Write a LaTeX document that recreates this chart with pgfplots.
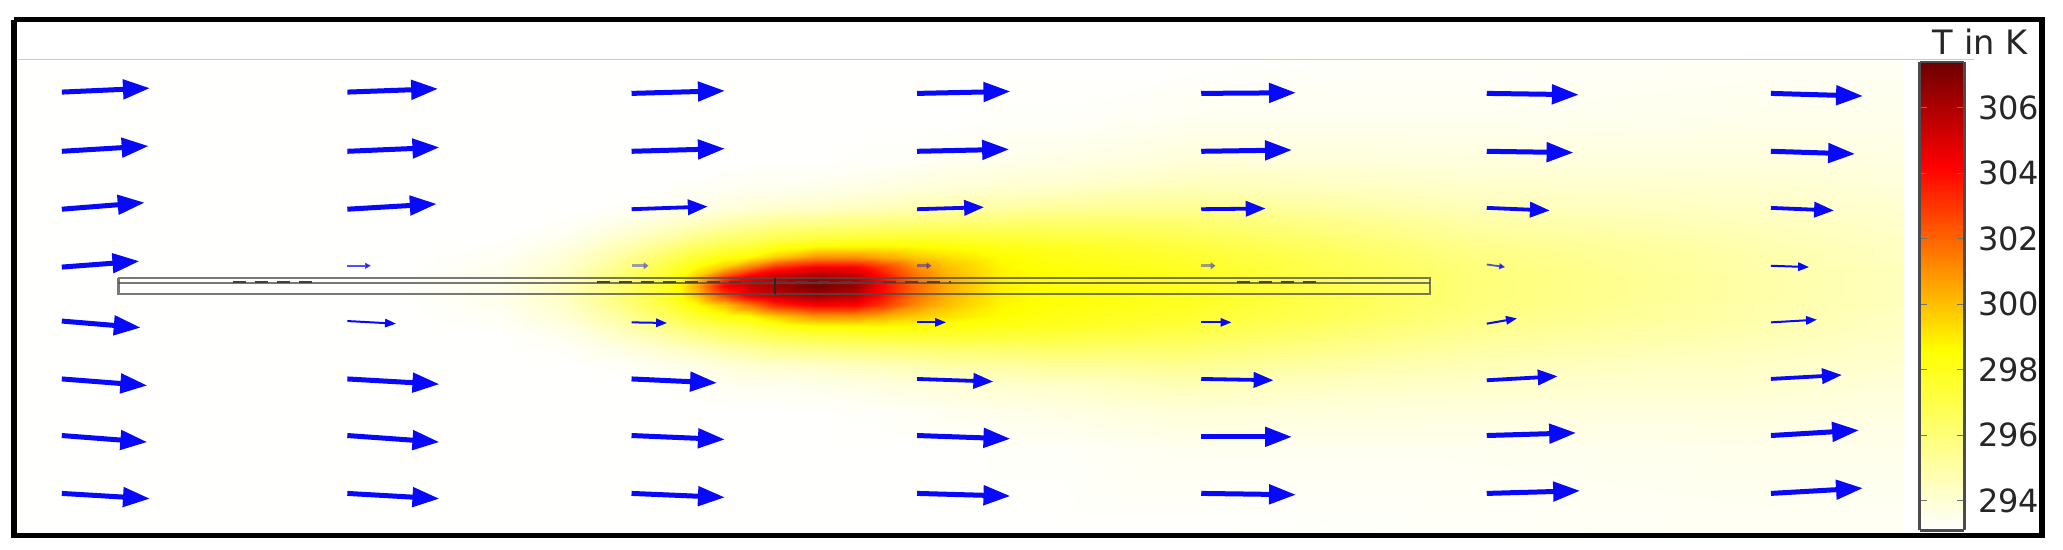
\documentclass[border=0pt]{standalone}
\usepackage{fontspec}
\setmainfont{DejaVu Sans}
\usepackage{pgfplots}
\pgfplotsset{compat=1.18}
\usetikzlibrary{arrows.meta}
\definecolor{arrowblue}{rgb}{0.03,0.03,0.98}
\pgfplotsset{
 colormap={hotrev}{rgb255(0cm)=(255,255,254); rgb255(3.85cm)=(255,255,0); rgb255(7.76cm)=(255,0,0); rgb255(10cm)=(110,0,0)}
}
\begin{document}
\begin{tikzpicture}
\useasboundingbox (0,0) rectangle (1031.5pt,275pt);
\begin{axis}[
 at={(0pt,0pt)},anchor=south west,scale only axis,width=1031.5pt,height=275pt,
 xmin=0,xmax=1568,ymin=0,ymax=418,y dir=reverse,hide axis,clip=false,view={0}{90},
 point meta min=293.1,point meta max=307.4,colormap name=hotrev]
\addplot3[surf,shader=interp,mesh/cols=22,point meta=\thisrowno{2}] table[x index=0,y index=1,z index=2,header=false,row sep=\\]{
12 45 293.1\\300 45 293.1\\380 45 293.1\\430 45 293.1\\470 45 293.1\\500 45 293.1\\515 45 293.1\\530 45 293.1\\550 45 293.1\\570 45 293.1\\590 45 293.1\\620 45 293.1\\650 45 293.1\\670 45 293.1\\695 45 293.1\\720 45 293.1\\760 45 293.1\\800 45 293.1\\900 45 293.1\\1120 45 293.2\\1330 45 293.3\\1447 45 293.3\\
12 92 293.1\\300 92 293.1\\380 92 293.1\\430 92 293.1\\470 92 293.1\\500 92 293.1\\515 92 293.1\\530 92 293.1\\550 92 293.1\\570 92 293.1\\590 92 293.1\\620 92 293.1\\650 92 293.1\\670 92 293.1\\695 92 293.1\\720 92 293.1\\760 92 293.2\\800 92 293.2\\900 92 293.4\\1120 92 293.4\\1330 92 293.5\\1447 92 293.5\\
12 122 293.1\\300 122 293.1\\380 122 293.1\\430 122 293.1\\470 122 293.1\\500 122 293.1\\515 122 293.1\\530 122 293.1\\550 122 293.1\\570 122 293.1\\590 122 293.1\\620 122 293.1\\650 122 293.2\\670 122 293.2\\695 122 293.3\\720 122 293.4\\760 122 293.5\\800 122 293.6\\900 122 293.9\\1120 122 293.8\\1330 122 293.8\\1447 122 293.7\\
12 142 293.1\\300 142 293.1\\380 142 293.1\\430 142 293.1\\470 142 293.1\\500 142 293.1\\515 142 293.2\\530 142 293.2\\550 142 293.3\\570 142 293.4\\590 142 293.4\\620 142 293.5\\650 142 293.6\\670 142 293.7\\695 142 293.8\\720 142 293.9\\760 142 294.1\\800 142 294.2\\900 142 294.6\\1120 142 294.2\\1330 142 294.1\\1447 142 293.9\\
12 157 293.1\\300 157 293.1\\380 157 293.1\\430 157 293.1\\470 157 293.2\\500 157 293.4\\515 157 293.5\\530 157 293.6\\550 157 293.8\\570 157 294\\590 157 294.1\\620 157 294.2\\650 157 294.4\\670 157 294.5\\695 157 294.7\\720 157 294.9\\760 157 295\\800 157 295.2\\900 157 295.4\\1120 157 294.6\\1330 157 294.3\\1447 157 294.1\\
12 169 293.1\\300 169 293.1\\380 169 293.1\\430 169 293.2\\470 169 293.6\\500 169 294\\515 169 294.2\\530 169 294.4\\550 169 294.8\\570 169 295.1\\590 169 295.4\\620 169 295.6\\650 169 295.8\\670 169 295.9\\695 169 296\\720 169 296.1\\760 169 296.2\\800 169 296.3\\900 169 296.2\\1120 169 295\\1330 169 294.5\\1447 169 294.2\\
12 179 293.1\\300 179 293.1\\380 179 293.1\\430 179 293.4\\470 179 294.1\\500 179 294.7\\515 179 295.1\\530 179 295.5\\550 179 296\\570 179 296.3\\590 179 296.7\\620 179 297\\650 179 297.2\\670 179 297.3\\695 179 297.4\\720 179 297.4\\760 179 297.3\\800 179 297.2\\900 179 296.8\\1120 179 295.3\\1330 179 294.7\\1447 179 294.3\\
12 187 293.1\\300 187 293.1\\380 187 293.2\\430 187 293.7\\470 187 294.6\\500 187 295.5\\515 187 296\\530 187 296.5\\550 187 297\\570 187 297.4\\590 187 298\\620 187 298.6\\650 187 298.7\\670 187 298.7\\695 187 298.6\\720 187 298.4\\760 187 298.1\\800 187 297.9\\900 187 297.3\\1120 187 295.6\\1330 187 294.8\\1447 187 294.4\\
12 195 293.1\\300 195 293.1\\380 195 293.3\\430 195 294\\470 195 295.1\\500 195 296.3\\515 195 297\\530 195 297.6\\550 195 298.3\\570 195 298.7\\590 195 299.8\\620 195 301\\650 195 301\\670 195 300.5\\695 195 299.8\\720 195 299.3\\760 195 298.6\\800 195 298.2\\900 195 297.6\\1120 195 295.8\\1330 195 294.9\\1447 195 294.4\\
12 203 293.1\\300 203 293.1\\380 203 293.4\\430 203 294.2\\470 203 295.6\\500 203 297\\515 203 297.7\\530 203 298.6\\550 203 299.8\\570 203 301.5\\590 203 303.3\\620 203 304.3\\650 203 304.2\\670 203 303\\695 203 301.2\\720 203 300\\760 203 298.8\\800 203 298.4\\900 203 297.8\\1120 203 295.9\\1330 203 294.9\\1447 203 294.5\\
12 210 293.1\\300 210 293.1\\380 210 293.5\\430 210 294.4\\470 210 295.9\\500 210 297.3\\515 210 298.3\\530 210 299.8\\550 210 302.5\\570 210 304.5\\590 210 305.4\\620 210 306.2\\650 210 305.6\\670 210 303.9\\695 210 301.8\\720 210 300.3\\760 210 298.9\\800 210 298.5\\900 210 297.9\\1120 210 296\\1330 210 295\\1447 210 294.5\\
12 217 293.1\\300 217 293.1\\380 217 293.5\\430 217 294.5\\470 217 296\\500 217 297.5\\515 217 298.6\\530 217 300.5\\550 217 304.2\\570 217 305.5\\590 217 306.3\\620 217 307.2\\650 217 306.5\\670 217 304.2\\695 217 302\\720 217 300.5\\760 217 298.9\\800 217 298.5\\900 217 297.9\\1120 217 296\\1330 217 295\\1447 217 294.5\\
12 225 293.1\\300 225 293.1\\380 225 293.5\\430 225 294.4\\470 225 295.9\\500 225 297.3\\515 225 298.3\\530 225 299.8\\550 225 302.5\\570 225 304.5\\590 225 305.4\\620 225 306.2\\650 225 305.6\\670 225 303.9\\695 225 301.8\\720 225 300.3\\760 225 298.9\\800 225 298.5\\900 225 297.9\\1120 225 296\\1330 225 295\\1447 225 294.5\\
12 232 293.1\\300 232 293.1\\380 232 293.4\\430 232 294.2\\470 232 295.6\\500 232 297\\515 232 297.7\\530 232 298.6\\550 232 299.8\\570 232 301.5\\590 232 303.3\\620 232 304.3\\650 232 304.2\\670 232 303\\695 232 301.2\\720 232 300\\760 232 298.8\\800 232 298.4\\900 232 297.8\\1120 232 295.9\\1330 232 294.9\\1447 232 294.5\\
12 240 293.1\\300 240 293.1\\380 240 293.3\\430 240 294\\470 240 295.1\\500 240 296.3\\515 240 297\\530 240 297.6\\550 240 298.3\\570 240 298.7\\590 240 299.8\\620 240 301\\650 240 301\\670 240 300.5\\695 240 299.8\\720 240 299.3\\760 240 298.6\\800 240 298.2\\900 240 297.6\\1120 240 295.8\\1330 240 294.9\\1447 240 294.4\\
12 248 293.1\\300 248 293.1\\380 248 293.2\\430 248 293.7\\470 248 294.6\\500 248 295.5\\515 248 296\\530 248 296.5\\550 248 297\\570 248 297.4\\590 248 298\\620 248 298.6\\650 248 298.7\\670 248 298.7\\695 248 298.6\\720 248 298.4\\760 248 298.1\\800 248 297.9\\900 248 297.3\\1120 248 295.6\\1330 248 294.8\\1447 248 294.4\\
12 256 293.1\\300 256 293.1\\380 256 293.1\\430 256 293.4\\470 256 294.1\\500 256 294.7\\515 256 295.1\\530 256 295.5\\550 256 296\\570 256 296.3\\590 256 296.7\\620 256 297\\650 256 297.2\\670 256 297.3\\695 256 297.4\\720 256 297.4\\760 256 297.3\\800 256 297.2\\900 256 296.8\\1120 256 295.3\\1330 256 294.7\\1447 256 294.3\\
12 266 293.1\\300 266 293.1\\380 266 293.1\\430 266 293.2\\470 266 293.6\\500 266 294\\515 266 294.2\\530 266 294.4\\550 266 294.8\\570 266 295.1\\590 266 295.4\\620 266 295.6\\650 266 295.8\\670 266 295.9\\695 266 296\\720 266 296.1\\760 266 296.2\\800 266 296.3\\900 266 296.2\\1120 266 295\\1330 266 294.5\\1447 266 294.2\\
12 278 293.1\\300 278 293.1\\380 278 293.1\\430 278 293.1\\470 278 293.2\\500 278 293.4\\515 278 293.5\\530 278 293.6\\550 278 293.8\\570 278 294\\590 278 294.1\\620 278 294.2\\650 278 294.4\\670 278 294.5\\695 278 294.7\\720 278 294.9\\760 278 295\\800 278 295.2\\900 278 295.4\\1120 278 294.6\\1330 278 294.3\\1447 278 294.1\\
12 293 293.1\\300 293 293.1\\380 293 293.1\\430 293 293.1\\470 293 293.1\\500 293 293.1\\515 293 293.2\\530 293 293.2\\550 293 293.3\\570 293 293.4\\590 293 293.4\\620 293 293.5\\650 293 293.6\\670 293 293.7\\695 293 293.8\\720 293 293.9\\760 293 294.1\\800 293 294.2\\900 293 294.6\\1120 293 294.2\\1330 293 294.1\\1447 293 293.9\\
12 313 293.1\\300 313 293.1\\380 313 293.1\\430 313 293.1\\470 313 293.1\\500 313 293.1\\515 313 293.1\\530 313 293.1\\550 313 293.1\\570 313 293.1\\590 313 293.1\\620 313 293.1\\650 313 293.2\\670 313 293.2\\695 313 293.3\\720 313 293.4\\760 313 293.5\\800 313 293.6\\900 313 293.9\\1120 313 293.8\\1330 313 293.8\\1447 313 293.7\\
12 343 293.1\\300 343 293.1\\380 343 293.1\\430 343 293.1\\470 343 293.1\\500 343 293.1\\515 343 293.1\\530 343 293.1\\550 343 293.1\\570 343 293.1\\590 343 293.1\\620 343 293.1\\650 343 293.1\\670 343 293.1\\695 343 293.1\\720 343 293.1\\760 343 293.2\\800 343 293.2\\900 343 293.4\\1120 343 293.4\\1330 343 293.5\\1447 343 293.5\\
12 407 293.1\\300 407 293.1\\380 407 293.1\\430 407 293.1\\470 407 293.1\\500 407 293.1\\515 407 293.1\\530 407 293.1\\550 407 293.1\\570 407 293.1\\590 407 293.1\\620 407 293.1\\650 407 293.1\\670 407 293.1\\695 407 293.1\\720 407 293.1\\760 407 293.1\\800 407 293.1\\900 407 293.1\\1120 407 293.2\\1330 407 293.3\\1447 407 293.3\\
};
% thin line below the top band
\addplot[gray!40,line width=0.5pt] coordinates {(12,45) (1500,45)};
% rod
\addplot[black!70,line width=1.2pt,opacity=.75] coordinates {(90,211.5) (1087,211.5) (1087,223.5) (90,223.5) (90,211.5)};
\addplot[black!70,line width=1pt,opacity=.75] coordinates {(90,215) (1087,215)};
\addplot[black!75,line width=0.8pt,dash pattern=on 6.5pt off 4.5pt] coordinates {(177,214.5) (238,214.5)};
\addplot[black!75,line width=0.8pt,dash pattern=on 6.5pt off 4.5pt] coordinates {(454,214.5) (723,214.5)};
\addplot[black!75,line width=0.8pt,dash pattern=on 6.5pt off 4.5pt] coordinates {(940,214.5) (1000,214.5)};
\addplot[black!85,line width=1pt] coordinates {(589,211.5) (589,223.5)};
% arrows
\addplot[arrowblue,line width=2.5pt,-{Triangle[length=13.5pt,width=9.5pt]},
 quiver={u=\thisrow{u},v=\thisrow{v}}] table{
x y u v
47 70 67 -3
264 70 69 -2.5
480 71 71 -2
697 71 71 -1.5
913 71 72 -0.5
1130 71 70 1
1346 71 70 2
47 115 66 -4
264 115 70 -3
480 115 71 -2
697 115 70 -1.5
913 115 69 -1
1130 115 66 1
1346 115 64 2
47 159 63 -5
264 159 68 -4
47 203 59 -4.5
47 244 60 5
47 288 65 5
264 288 70 4
480 288 65 3
47 331 65 5
264 331 70 5
480 331 71 3
697 331 71 2.5
913 332 69 0
1130 331 68 -2
1346 331 67 -4
47 375 67 4
264 375 70 4
480 375 71 3
697 375 71 2
913 375 72 1
1130 375 71 -2
1346 375 70 -4
};
\addplot[arrowblue,line width=1.9pt,-{Triangle[length=10pt,width=7.5pt]},
 quiver={u=\thisrow{u},v=\thisrow{v}}] table{
x y u v
480 159 58 -2
697 159 51 -1.5
913 159 49 -0.5
1130 158 48 2
1346 158 48 2
697 288 58 2
913 288 55 1
1130 289 54 -3
1346 288 54 -3
};
\addplot[arrowblue,line width=1pt,-{Triangle[length=5.5pt,width=4.2pt]},
 quiver={u=\thisrow{u},v=\thisrow{v}}] table{
x y u v
1346 202 29 1
264 244 37 2
480 245 27 0.5
697 245 22 0
913 245 23 0
1130 246 23 -4
1346 245 35 -2
};
\addplot[arrowblue,opacity=.7,line width=0.9pt,-{Triangle[length=3pt,width=3pt]},
 quiver={u=\thisrow{u},v=\thisrow{v}}] table{
x y u v
264 202 18 0
1130 201 14 2
};
\addplot[arrowblue,opacity=.4,line width=1.3pt,-{Triangle[length=2.5pt,width=3.5pt]},
 quiver={u=\thisrow{u},v=\thisrow{v}}] table{
x y u v
480 202 13 0
697 202 11 0
913 202 11 0
};
% frame
\addplot[black,line width=2.7pt] coordinates {(10.5,15) (1552,15) (1552,407) (10.5,407) (10.5,15)};
\node[anchor=center,text=black!85,font=\fontsize{16.8}{20}\selectfont] at (axis cs:1505,32) {T in K};
\end{axis}
\begin{axis}[
 at={(959.8pt,9.87pt)},anchor=south west,scale only axis,width=22.3pt,height=234.2pt,
 xmin=0,xmax=1,ymin=293.1,ymax=307.4,view={0}{90},
 xtick=\empty,ytick={294,296,298,300,302,304,306},ytick pos=both,yticklabel pos=right,
 tick align=inside,major tick length=3.5pt,
 tick style={black!55,line width=0.5pt},
 axis line style={black!70,line width=1.3pt},
 tick label style={font=\fontsize{16}{19}\selectfont,text=black!85},
 yticklabel style={xshift=3.5pt,/pgf/number format/assume math mode=true,/pgf/number format/1000 sep={}},
 point meta min=293.1,point meta max=307.4,colormap name=hotrev,axis on top]
\addplot3[surf,shader=interp,mesh/cols=2,point meta=\thisrowno{2}] table[x index=0,y index=1,z index=2,header=false]{
0 293.1 293.1
1 293.1 293.1
0 298.6 298.6
1 298.6 298.6
0 304.2 304.2
1 304.2 304.2
0 307.4 307.4
1 307.4 307.4
};
\end{axis}
\end{tikzpicture}
\end{document}
